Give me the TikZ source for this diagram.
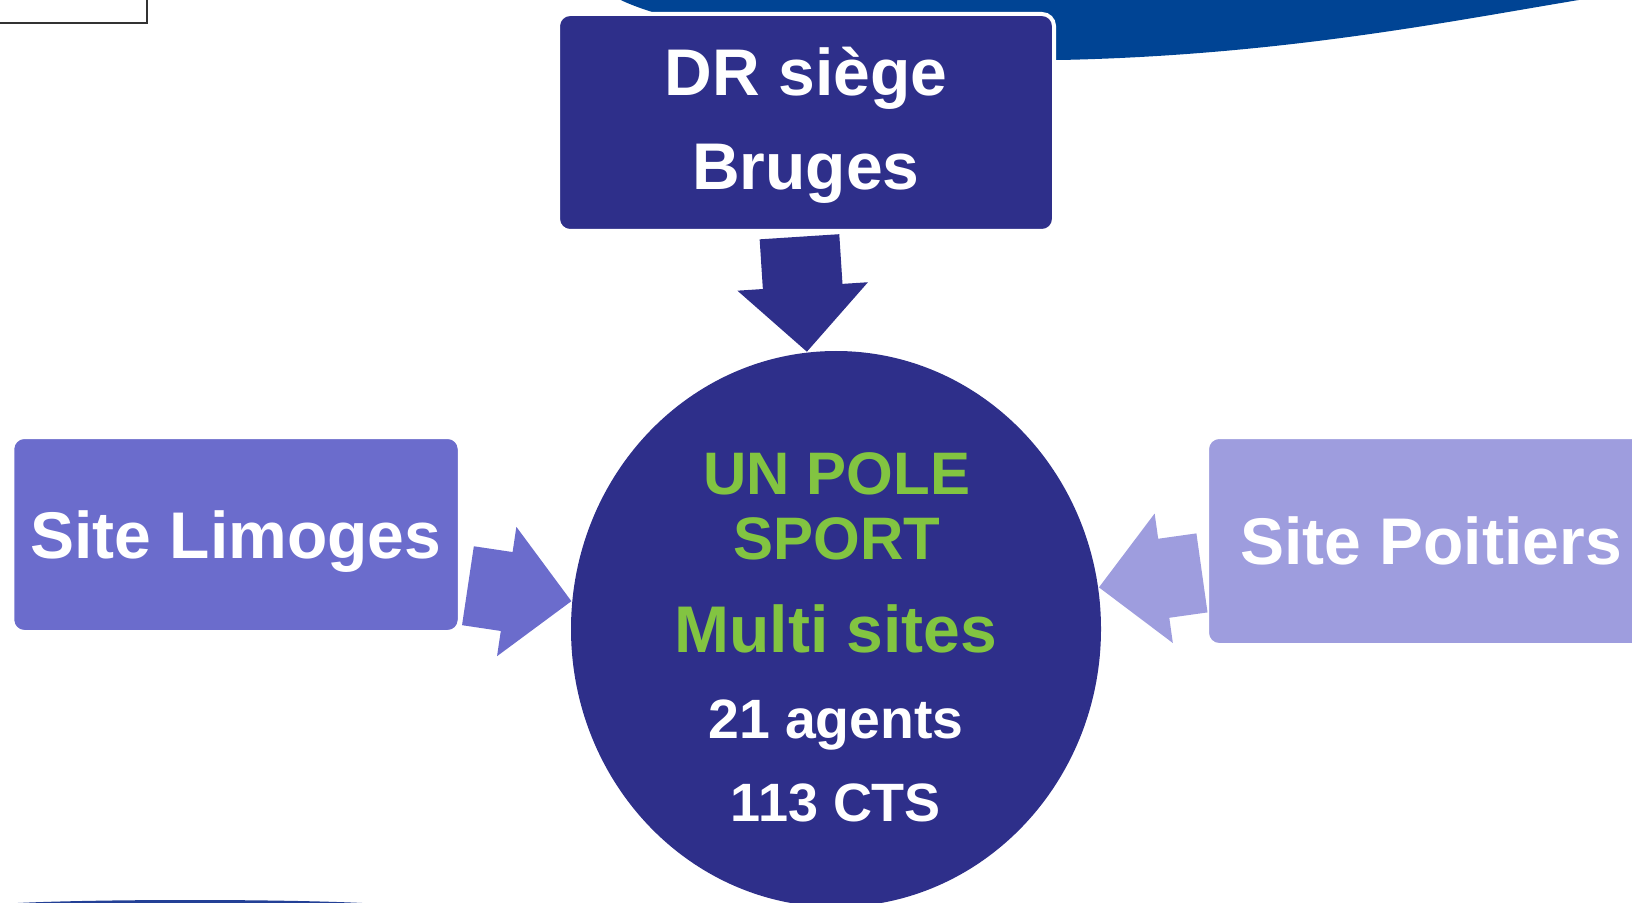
\documentclass[tikz,border=0pt]{standalone}
\usepackage{fontspec}
\setmainfont{Liberation Sans}
\usepackage{tikz}
\usetikzlibrary{shapes.geometric,shapes.arrows}
\pgfdeclarelayer{bg}
\pgfsetlayers{bg,main}
\definecolor{navy}{RGB}{46,47,138}
\definecolor{limcol}{RGB}{107,108,204}
\definecolor{poicol}{RGB}{158,157,222}
\definecolor{topblue}{RGB}{0,68,148}
\definecolor{lowblue}{RGB}{35,64,150}
\definecolor{polegreen}{RGB}{130,196,65}
\tikzset{
    box/.style={rectangle, rounded corners=6pt, draw=white, line width=2pt, text=white, inner sep=0mm},
    pole/.style={ellipse, fill=navy, inner sep=0mm, minimum width=265pt, minimum height=278pt},
    ptxt/.style={anchor=base, inner sep=0mm, font=\bfseries},
    blk/.style={single arrow, single arrow tip angle=90, single arrow head extend=12.75pt,
        inner xsep=0pt, inner ysep=19.75pt, minimum width=65pt, anchor=tip}
}

\begin{document}
\begin{tikzpicture}[x=0.5pt, y=-0.5pt]
        \useasboundingbox (0,0) rectangle (1632,903);
        \clip (0,0) rectangle (1632,903);
        \begin{pgfonlayer}{bg}
                \fill[topblue] (612,-5) .. controls (640,15) and (800,60) .. (1060,60) .. controls (1300,55) and (1480,15) .. (1610,-5) -- cycle;
                \fill[lowblue] (190,907) ellipse [x radius=105pt, y radius=3.5pt];
                \draw[line width=0.8pt, black!80] (-10,-10) rectangle (147,23);
        \end{pgfonlayer}
        \node (dr) [box, fill=navy, minimum width=248pt, minimum height=108.5pt, align=center, text depth=4pt, font=\bfseries\fontsize{33pt}{47pt}\selectfont] at (806,122.5) {DR siège\\Bruges};
        \node (lim) [box, fill=limcol, minimum width=223.75pt, minimum height=97.5pt, text depth=0pt, font=\bfseries\fontsize{33pt}{40pt}\selectfont] at (236,534.5) {Site Limoges};
        \node (poi) [box, fill=poicol, minimum width=224pt, minimum height=104pt, text depth=0pt, font=\bfseries\fontsize{33pt}{40pt}\selectfont] at (1431,541) {Site Poitiers};
        \node (pole) [pole] at (836,629) {};
        \node (p1) [ptxt, text=polegreen, font=\bfseries\fontsize{30pt}{36pt}\selectfont] at ([shift={(1,-135)}]pole.center) {UN POLE};
        \node (p2) [ptxt, text=polegreen, font=\bfseries\fontsize{30pt}{36pt}\selectfont] at ([shift={(1,-70)}]pole.center) {SPORT};
        \node (p3) [ptxt, text=polegreen, font=\bfseries\fontsize{33pt}{40pt}\selectfont] at ([shift={(0,23.6)}]pole.center) {Multi sites};
        \node (p4) [ptxt, text=white, font=\bfseries\fontsize{27.7pt}{33pt}\selectfont] at ([shift={(0,109)}]pole.center) {21 agents};
        \node (p5) [ptxt, text=white, font=\bfseries\fontsize{27pt}{33pt}\selectfont] at ([shift={(0,192)}]pole.center) {113 CTS};
        \node (a1) [blk, fill=navy, minimum height=57.6pt, rotate=-86.3] at (pole.96) {};
        \node (a2) [blk, fill=limcol, minimum height=52.3pt, rotate=-8.5] at (pole.174) {};
        \node (a3) [blk, fill=poicol, minimum height=52pt, rotate=-172] at (pole.9) {};
\end{tikzpicture}
\end{document}
